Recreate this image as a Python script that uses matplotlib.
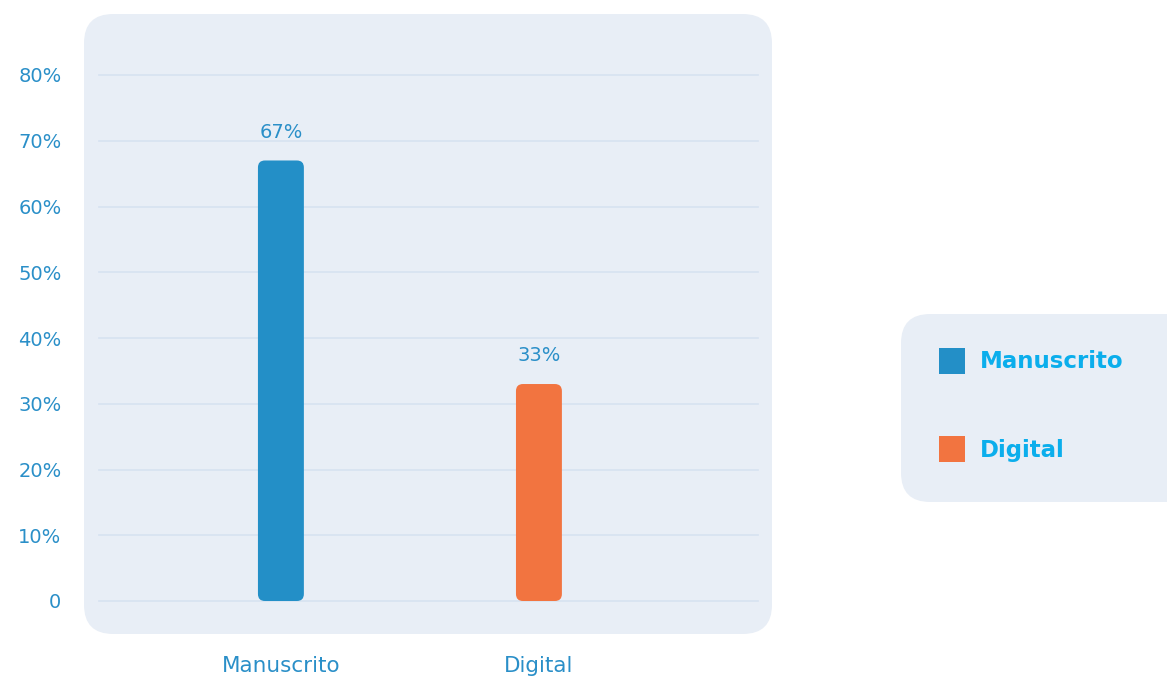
import matplotlib.pyplot as plt
from matplotlib.patches import FancyBboxPatch, Rectangle

plt.rcParams['font.family'] = ['DejaVu Sans']

categories = ['Manuscrito', 'Digital']
values = [67, 33]
colors = ['#238FC7', '#F27440']
yticks = [0, 10, 20, 30, 40, 50, 60, 70, 80]
ytick_labels = ['0', '10%', '20%', '30%', '40%', '50%', '60%', '70%', '80%']

W, H = 1167, 676
fig = plt.figure(figsize=(W / 100, H / 100), dpi=100)

# panel de fondo redondeado
panel = FancyBboxPatch((84 / W, 1 - 634 / H), (772 - 84) / W, (634 - 14) / H,
                       boxstyle='round,pad=0,rounding_size=0.025',
                       mutation_aspect=W / H,
                       transform=fig.transFigure, fc='#E8EEF6', ec='none', zorder=-5)
fig.patches.append(panel)

ax = fig.add_axes([99 / W, 1 - 601 / H, (758 - 99) / W, (601 - 75) / H])
ax.set_facecolor('none')
x = list(range(len(categories)))
ax.set_xlim(-0.705, 1.849)
ax.set_ylim(0, 80)
for s in ax.spines.values():
    s.set_visible(False)

for t in yticks:
    ax.axhline(t, color='#D6E2F1', lw=1.2, zorder=1, clip_on=False)

ax.set_yticks(yticks)
ax.set_yticklabels(ytick_labels, fontsize=14, color='#2A8FC8')
ax.tick_params(axis='y', length=0, pad=27)
ax.set_xticks([])

# barras con esquinas redondeadas
bw = 0.178
xr = (ax.get_xlim()[1] - ax.get_xlim()[0]) / (658)
yr = (ax.get_ylim()[1] - ax.get_ylim()[0]) / (526)
aspect = yr / xr
for xi, v, c, lab in zip(x, values, colors, categories):
    p = FancyBboxPatch((xi - bw / 2, 0), bw, v,
                       boxstyle='round,pad=0,rounding_size=%f' % (7 * xr),
                       mutation_aspect=aspect, fc=c, ec='none', zorder=3)
    ax.add_patch(p)
    ax.text(xi, v + 4.3, '%d%%' % v, ha='center', va='center',
            fontsize=14, color='#2A8FC8', zorder=4)
    ax.text(xi, -9.9, lab, ha='center', va='center', fontsize=15.5,
            color='#2A8FC8', clip_on=False)

# leyenda
leg = FancyBboxPatch((901 / W, 1 - 502 / H), 300 / W, (502 - 314) / H,
                     boxstyle='round,pad=0,rounding_size=0.025',
                     mutation_aspect=W / H,
                     transform=fig.transFigure, fc='#E8EEF6', ec='none', zorder=-5)
fig.patches.append(leg)
for i, (lab, c) in enumerate(zip(categories, colors)):
    top = 348 + i * 88
    fig.patches.append(Rectangle((939 / W, 1 - (top + 26) / H), 26 / W, 26 / H,
                                 transform=fig.transFigure, fc=c, ec='none'))
    fig.text(980 / W, 1 - (top + 14) / H, lab, ha='left', va='center',
             fontsize=16.5, fontweight='bold', color='#0BAEEC')

fig.savefig('out.png', dpi=100)
